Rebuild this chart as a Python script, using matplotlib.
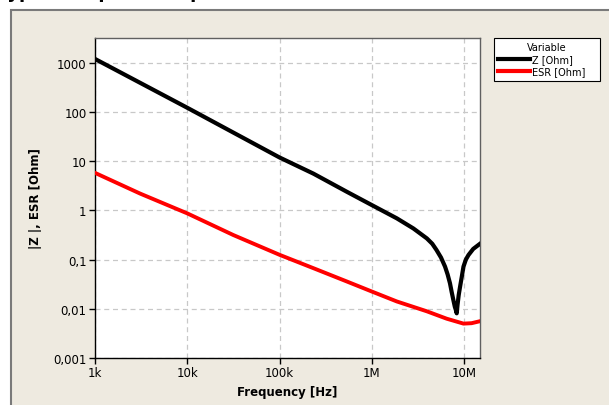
import numpy as np
import matplotlib.pyplot as plt
from matplotlib.patches import Rectangle
from matplotlib.lines import Line2D
from matplotlib.ticker import FixedLocator, FixedFormatter, NullLocator

# values
freq_z = [1e3, 1e4, 1e5, 2.32e5, 5.33e5, 1e6, 1.86e6, 2.81e6, 3.93e6, 4.5e6,
          5.0e6, 5.6e6, 6.19e6, 6.6e6, 7.0e6, 7.3e6, 7.62e6, 7.9e6, 8.1e6,
          8.28e6, 8.45e6, 8.7e6, 9.0e6, 9.4e6, 9.8e6, 1.04e7, 1.11e7,
          1.25e7, 1.48e7]
z_ohm = [1200, 122, 11.9, 5.6, 2.4, 1.28, 0.69, 0.43, 0.27, 0.21,
         0.157, 0.11, 0.072, 0.05, 0.033, 0.022, 0.015, 0.011, 0.0095,
         0.0081, 0.012, 0.019, 0.028, 0.045, 0.072, 0.1, 0.124,
         0.165, 0.21]

freq_esr = [1e3, 3.08e3, 1e4, 3.15e4, 1e5, 2.32e5, 5.33e5, 1e6, 1.86e6,
            3.93e6, 6.44e6, 9.8e6, 1.2e7, 1.48e7]
esr_ohm = [5.8, 2.2, 0.87, 0.316, 0.125, 0.067, 0.036, 0.0224, 0.0141,
           0.0089, 0.0063, 0.0050, 0.0051, 0.0056]

yticks = [1e-3, 1e-2, 1e-1, 1, 10, 100, 1000]
ylabels = ['0,001', '0,01', '0,1', '1', '10', '100', '1000']
xticks = [1e3, 1e4, 1e5, 1e6, 1e7]
xlabels = ['1k', '10k', '100k', '1M', '10M']

W, H = 609, 406
fig = plt.figure(figsize=(W / 100, H / 100), dpi=100)
fig.patch.set_facecolor('white')

# beige panel, runs off the right and bottom edges
fig.patches.append(Rectangle((10.5 / W, -0.05), 1.1, 1 - 11 / H + 0.05, transform=fig.transFigure,
                             facecolor='#EEEAE0', edgecolor='#7a7a7a', linewidth=1.5, zorder=-10))
# title, mostly cut off by the top edge
fig.text(-0.005, 1 + 1.5 / H, 'Typical Impedance plot', fontsize=13, fontweight='bold',
         va='baseline', ha='left')

ax = fig.add_axes([95 / W, 1 - 359 / H, (480 - 95) / W, (359 - 39) / H])
ax.set_facecolor('white')

ax.plot(freq_z, z_ohm, color='black', lw=3.0, solid_joinstyle='round', label='Z [Ohm]', zorder=3)
ax.plot(freq_esr, esr_ohm, color='#ff0000', lw=2.8, solid_joinstyle='round', label='ESR [Ohm]', zorder=3)

ax.set_xscale('log')
ax.set_yscale('log')
ax.set_xlim(1e3, 1.48e7)
ax.set_ylim(1e-3, 3200)

ax.xaxis.set_major_locator(FixedLocator(xticks))
ax.xaxis.set_major_formatter(FixedFormatter(xlabels))
ax.xaxis.set_minor_locator(NullLocator())
ax.yaxis.set_major_locator(FixedLocator(yticks))
ax.yaxis.set_major_formatter(FixedFormatter(ylabels))
ax.yaxis.set_minor_locator(NullLocator())

ax.grid(True, which='major', color='#c8c8c8', linestyle=(0, (4, 3)), linewidth=0.9)
ax.tick_params(direction='out', length=4, width=1, labelsize=8.5, color='black', pad=2)

for s in ['left', 'bottom']:
    ax.spines[s].set_color('black')
    ax.spines[s].set_linewidth(1.0)
for s in ['top', 'right']:
    ax.spines[s].set_color('#606060')
    ax.spines[s].set_linewidth(1.0)

ax.set_xlabel('Frequency [Hz]', fontsize=8.5, fontweight='bold', labelpad=4)
ax.set_ylabel('|Z |, ESR [Ohm]', fontsize=8.5, fontweight='bold', labelpad=8)

handles = [Line2D([], [], color='black', lw=3), Line2D([], [], color='#ff0000', lw=3)]
leg = fig.legend(handles, ['Z [Ohm]', 'ESR [Ohm]'], title='Variable',
                 loc='upper left', bbox_to_anchor=(494 / W, 1 - 82 / H, 106 / W, 43 / H),
                 mode='expand', fontsize=7, title_fontsize=7, frameon=True, fancybox=False,
                 edgecolor='black', facecolor='white', framealpha=1,
                 handlelength=3.3, handletextpad=0.2, borderpad=0.45,
                 labelspacing=0.2, borderaxespad=0)
leg.get_frame().set_linewidth(0.8)

fig.savefig('out.png', dpi=100)
